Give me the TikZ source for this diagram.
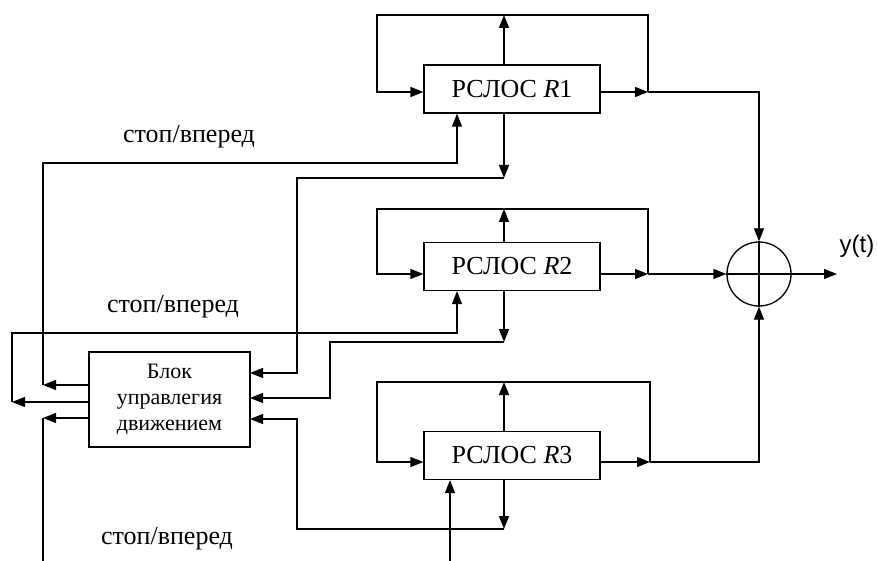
\documentclass[tikz,border=0pt]{standalone}
\usepackage{fontspec}
\setmainfont{Liberation Serif}
\setsansfont{Liberation Sans}
\usetikzlibrary{arrows.meta}
\begin{document}
\begin{tikzpicture}[x=1pt,y=-1pt,line width=1.3pt,
  blk/.style={draw,line width=1.3pt,minimum width=176pt,minimum height=48pt,inner sep=0pt,font=\fontsize{26}{28}\selectfont},
  ctl/.style={draw,line width=1.3pt,minimum width=161pt,minimum height=95pt,inner sep=0pt,align=center,font=\fontsize{22}{26}\selectfont},
  arr/.style={-{Triangle[length=13pt,width=10pt]}},
  lbl/.style={font=\fontsize{26}{28}\selectfont},
  sumc/.style={draw,circle,line width=1.3pt,minimum size=64pt,inner sep=0pt}]
\useasboundingbox (0,0) rectangle (877,561);
% blocks
\node[blk] (R1) at (512,89) {РСЛОС \textit{R}1};
\node[blk] (R2) at (512,266.5) {РСЛОС \textit{R}2};
\node[blk] (R3) at (512,455.5) {РСЛОС \textit{R}3};
\node[ctl] (C) at (169.5,399.5) {Блок\\управлегия\\движением};
\node[sumc] (S) at (759,274) {};
\draw (S.north) -- (S.south) (S.west) -- (S.east);
% labels
\node[lbl] (L1) at (189,137) {стоп/вперед};
\node[lbl] (L2) at (173,307) {стоп/вперед};
\node[lbl] (L3) at (167,539) {стоп/вперед};
\node[font=\sffamily\fontsize{24}{26}\selectfont] (yt) at (857,246) {y(t)};
% coordinates
\coordinate (o1) at (648,92);
\coordinate (l1) at (377,15);
\coordinate (u1) at (504,15);
\coordinate (d1) at (504,178);
\coordinate (o2) at (648,274);
\coordinate (l2) at (377,209);
\coordinate (u2) at (504,209);
\coordinate (d2) at (504,342);
\coordinate (o3) at (650,462);
\coordinate (l3) at (377,382);
\coordinate (u3) at (504,382);
\coordinate (d3) at (504,529);
\coordinate (s1) at (457,163);
\coordinate (s2) at (457,333);
\coordinate (r3in) at (450,561);
\coordinate (k1) at (297,373);
\coordinate (k2) at (330,398);
\coordinate (k3) at (297,419);
\coordinate (ci1) at (250,373);
\coordinate (ci2) at (250,398);
\coordinate (ci3) at (250,419);
\coordinate (co1) at (89,385);
\coordinate (co2) at (89,402);
\coordinate (co3) at (89,418);
\coordinate (v1) at (43,385);
\coordinate (v2) at (12,402);
\coordinate (v3) at (43,418);
\coordinate (v3e) at (43,561);
\coordinate (yout) at (837,274);
% R1 loop
\draw[arr] (R1.east |- o1) -- (o1);
\draw[arr] (o1) |- (l1) |- (R1.west |- o1);
\draw[arr] (u1 |- R1.north) -- (u1);
\draw[arr] (d1 |- R1.south) -- (d1);
% R2 loop
\draw[arr] (R2.east |- o2) -- (o2);
\draw[arr] (o2) |- (l2) |- (R2.west |- o2);
\draw[arr] (u2 |- R2.north) -- (u2);
\draw[arr] (d2 |- R2.south) -- (d2);
% R3 loop
\draw[arr] (R3.east |- o3) -- (o3);
\draw[arr] (o3) |- (l3) |- (R3.west |- o3);
\draw[arr] (u3 |- R3.north) -- (u3);
\draw[arr] (d3 |- R3.south) -- (d3);
% to summer
\draw[arr] (o1) -| (S.north);
\draw[arr] (o2) -- (S.west);
\draw[arr] (o3) -| (S.south);
\draw[arr] (S.east) -- (yout);
% down outputs to control block
\draw[arr] (d1) -| (k1) -- (ci1);
\draw[arr] (d2) -| (k2) -- (ci2);
\draw[arr] (d3) -| (k3) -- (ci3);
% control outputs
\draw[arr] (co1) -- (v1);
\draw[arr] (v1) |- (s1) -- (s1 |- R1.south);
\draw[arr] (co2) -- (v2);
\draw[arr] (v2) |- (s2) -- (s2 |- R2.south);
\draw[arr] (co3) -- (v3);
\draw (v3) -- (v3e);
\draw[arr] (r3in) -- (r3in |- R3.south);
\end{tikzpicture}
\end{document}
